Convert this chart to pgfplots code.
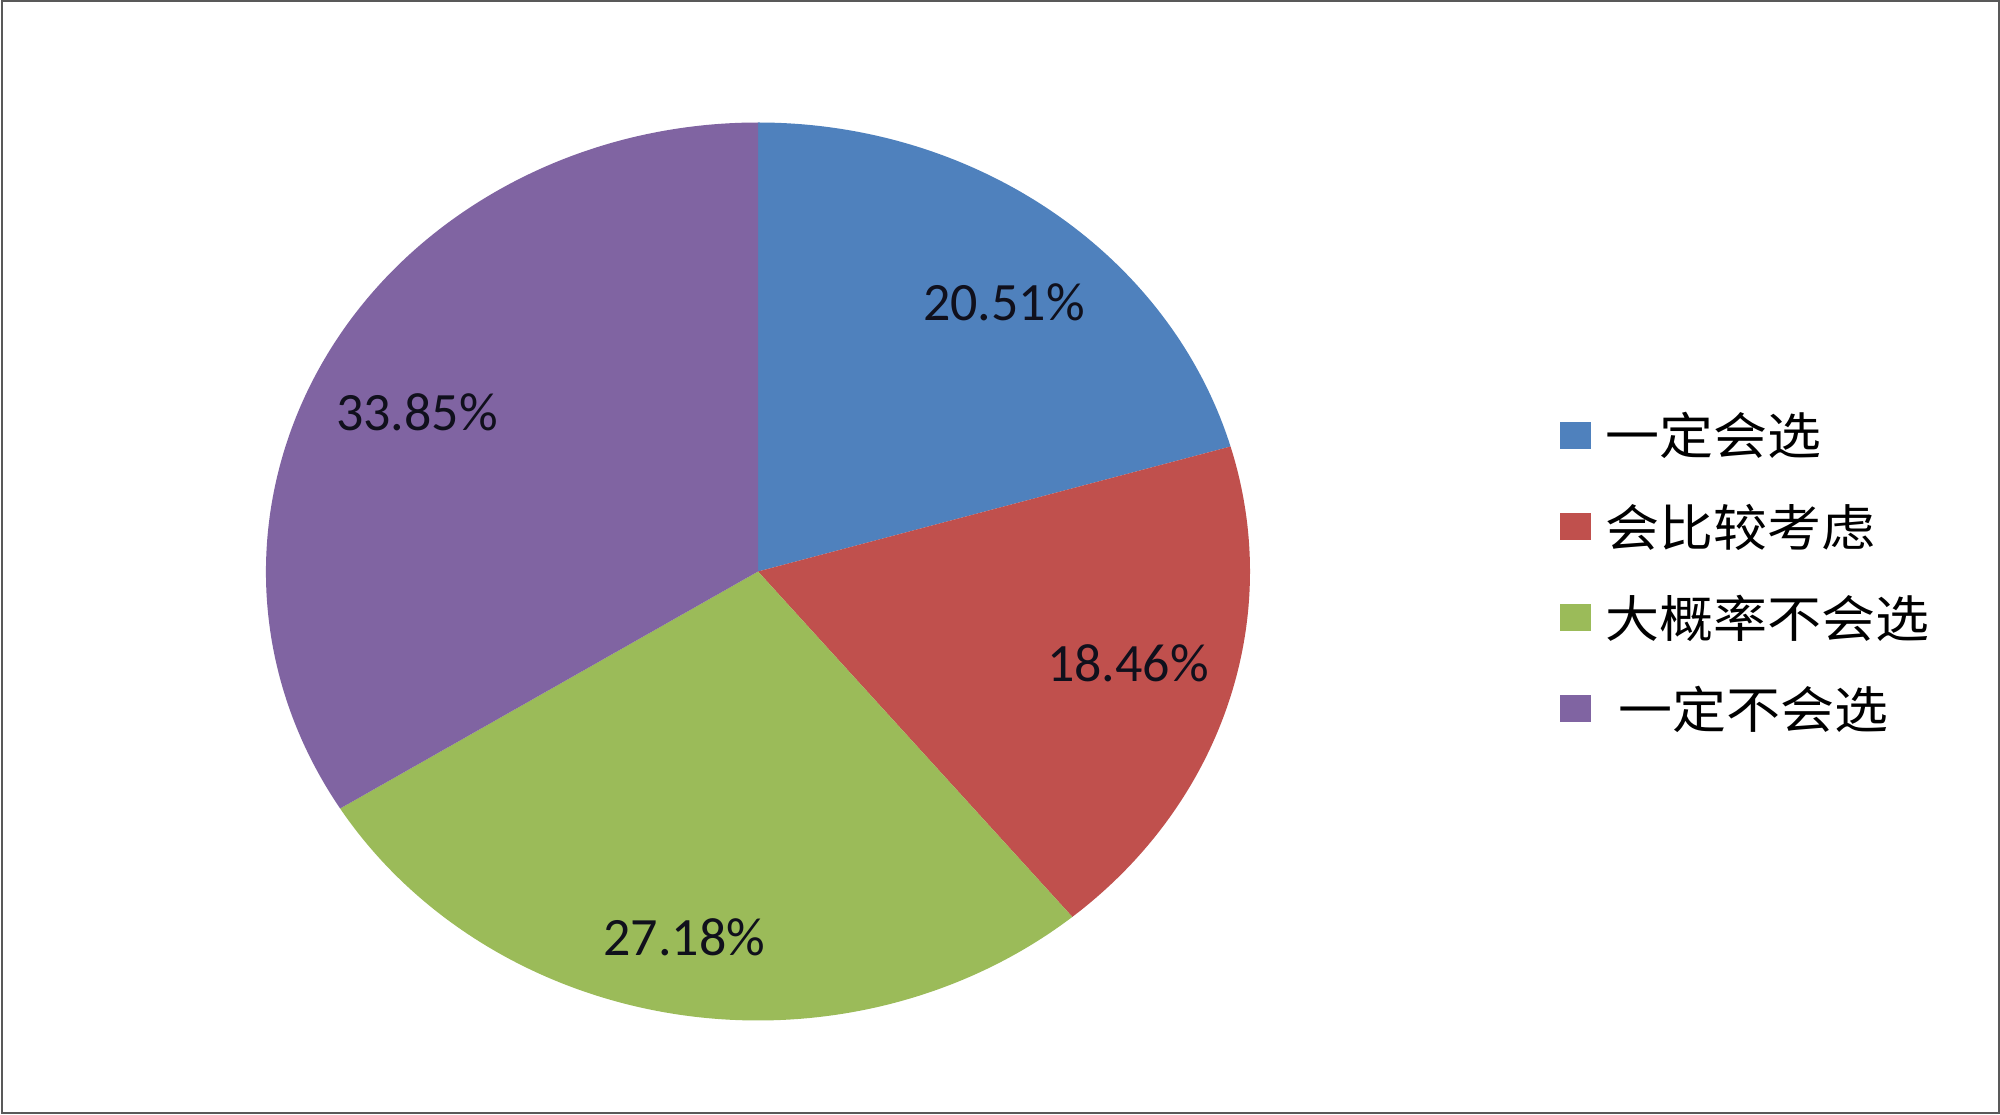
\documentclass[border=0pt]{standalone}
\usepackage{pgfplots}
\pgfplotsset{compat=1.18}
\usepackage{pgfplotstable}
\usepackage{fontspec}
\setmainfont{Carlito}
\newfontfamily\cjk{Noto Sans CJK SC}

\definecolor{sliceA}{HTML}{4F81BD}
\definecolor{sliceB}{HTML}{C0504D}
\definecolor{sliceC}{HTML}{9BBB59}
\definecolor{sliceD}{HTML}{8064A2}
\definecolor{labeltext}{HTML}{10101C}

% shares in percent, clockwise from 12 o'clock
\pgfplotstableread{
share
20.51
18.46
27.18
33.85
}\piedata

\begin{document}
\begin{tikzpicture}[x=0.5pt,y=0.5pt]
\pgfplotstablegetelem{0}{share}\of\piedata \let\sA\pgfplotsretval
\pgfplotstablegetelem{1}{share}\of\piedata \let\sB\pgfplotsretval
\pgfplotstablegetelem{2}{share}\of\piedata \let\sC\pgfplotsretval
\pgfplotstablegetelem{3}{share}\of\piedata \let\sD\pgfplotsretval
\pgfmathsetmacro\aA{90}
\pgfmathsetmacro\aB{\aA-3.6*\sA}
\pgfmathsetmacro\aC{\aB-3.6*\sB}
\pgfmathsetmacro\aD{\aC-3.6*\sC}
\pgfmathsetmacro\aE{\aD-3.6*\sD}

\useasboundingbox (0,0) rectangle (2000,1114);
\fill[white] (0,0) rectangle (2000,1114);
\draw[line width=1pt, black!65] (1.5,1.5) rectangle (1998.5,1112.5);

\begin{axis}[
  at={(379pt,271.25pt)}, anchor=center,
  width=492pt, height=449pt, scale only axis,
  xmin=-1, xmax=1, ymin=-1, ymax=1,
  hide axis, clip=false,
]
\fill[sliceA] (axis cs:0,0) -- (axis cs:{cos(\aA)},{sin(\aA)}) arc[start angle=\aA, end angle=\aB, x radius=1, y radius=1] -- cycle;
\fill[sliceB] (axis cs:0,0) -- (axis cs:{cos(\aB)},{sin(\aB)}) arc[start angle=\aB, end angle=\aC, x radius=1, y radius=1] -- cycle;
\fill[sliceC] (axis cs:0,0) -- (axis cs:{cos(\aC)},{sin(\aC)}) arc[start angle=\aC, end angle=\aD, x radius=1, y radius=1] -- cycle;
\fill[sliceD] (axis cs:0,0) -- (axis cs:{cos(\aD)},{sin(\aD)}) arc[start angle=\aD, end angle=\aE, x radius=1, y radius=1] -- cycle;

\begin{scope}[every node/.style={font=\fontsize{27pt}{27pt}\selectfont, text=labeltext, inner sep=0pt}]
\node at (axis cs:0.50,0.60) {\sA\%};
\node at (axis cs:0.752,-0.204) {\sB\%};
\node at (axis cs:-0.15,-0.814) {\sC\%};
\node at (axis cs:-0.693,0.355) {\sD\%};
\end{scope}
\end{axis}

% legend
\fill[sliceA] (1560,665) rectangle (1591,692);
\fill[sliceB] (1560,573.5) rectangle (1591,600.5);
\fill[sliceC] (1560,482.5) rectangle (1591,509.5);
\fill[sliceD] (1560,391.5) rectangle (1591,418.5);
\begin{scope}[every node/.style={anchor=west, inner sep=0pt, font=\cjk\fontsize{25pt}{25pt}\selectfont, xscale=1.08}]
\node at (1605,678.5) {一定会选};
\node at (1605,587) {会比较考虑};
\node at (1605,496) {大概率不会选};
\node at (1618,405) {一定不会选};
\end{scope}
\end{tikzpicture}
\end{document}
